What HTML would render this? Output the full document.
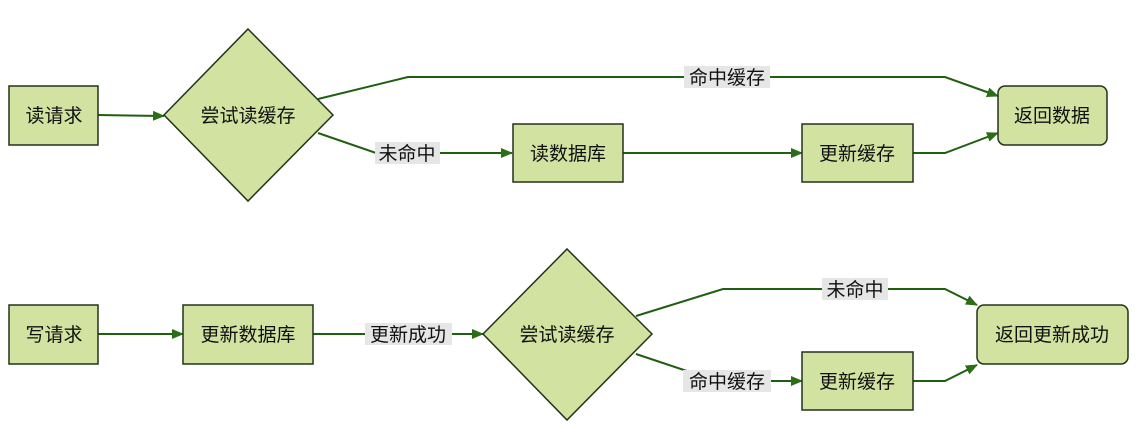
<!DOCTYPE html>
<html><head><meta charset="utf-8"><style>
body{margin:0;background:#fff}
svg text{font-family:"Liberation Sans","Noto Sans CJK SC",sans-serif;font-size:19px;fill:#111}
</style></head><body>
<svg width="1142" height="422" viewBox="0 0 1142 422" xmlns="http://www.w3.org/2000/svg">
<defs><marker id="a" markerWidth="12" markerHeight="10" refX="11" refY="5" orient="auto" markerUnits="userSpaceOnUse"><path d="M0,0 L12,5 L0,10 z" fill="#2a6e17"/></marker></defs>
<g fill="none" stroke="#1f5f10" stroke-width="2">
<path d="M98,115 L164,116" marker-end="url(#a)"/>
<path d="M318,99 L408,77 L945,77 L998,96" marker-end="url(#a)"/>
<path d="M318,133 L376,153 L512,153" marker-end="url(#a)"/>
<path d="M623,153 L802,153" marker-end="url(#a)"/>
<path d="M913,153 L945,153 L998,133" marker-end="url(#a)"/>
<path d="M98,334 L183,334" marker-end="url(#a)"/>
<path d="M313,334 L483,334" marker-end="url(#a)"/>
<path d="M636,316 L723,289 L945,289 L977,305" marker-end="url(#a)"/>
<path d="M636,354 L690,372 L700,381 L802,381" marker-end="url(#a)"/>
<path d="M913,381 L945,381 L977,365" marker-end="url(#a)"/>
</g>
<g fill="#d2e2a0" stroke="#22331a" stroke-width="1.5">
<rect x="9" y="86" width="89" height="59"/>
<polygon points="248,29 333,115 248,201 164,115"/>
<rect x="513" y="124" width="110" height="58"/>
<rect x="802" y="124" width="111" height="58"/>
<rect x="998" y="86" width="109" height="59" rx="7"/>
<rect x="9" y="305" width="89" height="59"/>
<rect x="183" y="305" width="130" height="59"/>
<polygon points="567,249 652,334 567,420 483,334"/>
<rect x="802" y="352" width="111" height="58"/>
<rect x="977" y="305" width="151" height="59" rx="7"/>
</g>
<g fill="#e6e6e6">
<rect x="684" y="66" width="86" height="22"/>
<rect x="375" y="142" width="65" height="22"/>
<rect x="365" y="323" width="87" height="22"/>
<rect x="822" y="278" width="66" height="22"/>
<rect x="683" y="370" width="88" height="22"/>
</g>
<g text-anchor="middle">
<text x="54" y="122">读请求</text>
<text x="248" y="122">尝试读缓存</text>
<text x="568" y="160">读数据库</text>
<text x="857" y="160">更新缓存</text>
<text x="1052" y="122">返回数据</text>
<text x="727" y="84">命中缓存</text>
<text x="407" y="160">未命中</text>
<text x="54" y="341">写请求</text>
<text x="248" y="341">更新数据库</text>
<text x="408" y="341">更新成功</text>
<text x="567" y="341">尝试读缓存</text>
<text x="855" y="296">未命中</text>
<text x="727" y="388">命中缓存</text>
<text x="857" y="388">更新缓存</text>
<text x="1052" y="341">返回更新成功</text>
</g>
</svg>
</body></html>
